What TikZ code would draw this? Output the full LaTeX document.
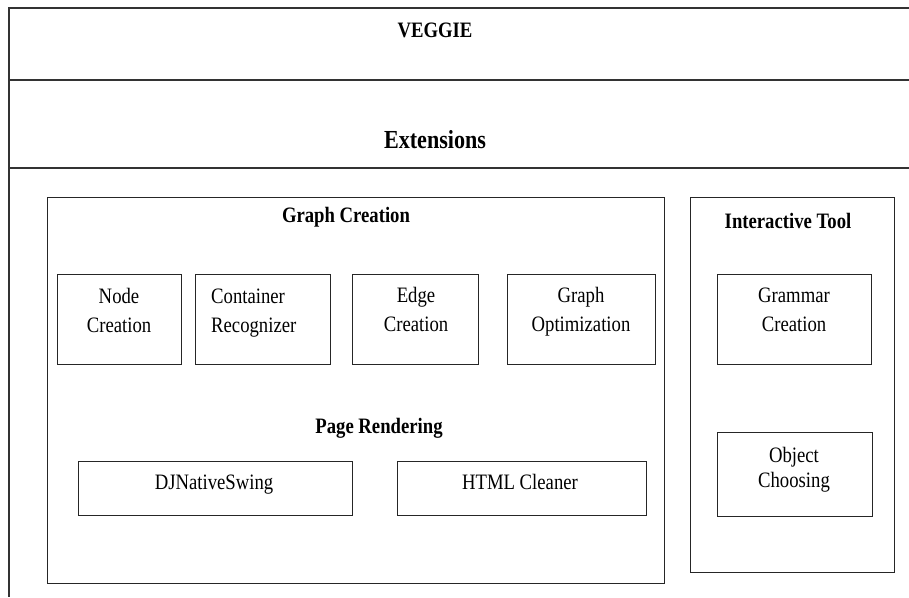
\documentclass[tikz,border=0pt]{standalone}
\usepackage{fontspec}
\setmainfont{Liberation Serif}[FakeStretch=0.85]
\newcommand{\twolines}[3][c]{\begin{tabular}[t]{@{}#1@{}}#2\\#3\end{tabular}}
\begin{document}
\begin{tikzpicture}[x=1pt,y=-1pt,
  frame/.style={line width=1.4pt, draw=black!80},
  box/.style={draw=black!85, line width=1.4pt, inner sep=0pt, anchor=north west},
  lbl/.style={inner sep=0pt, anchor=base, font=\fontsize{22}{29}\selectfont},
  lblb/.style={inner sep=0pt, anchor=base, font=\fontsize{22}{29}\selectfont\bfseries},
]
\useasboundingbox (0,0) rectangle (909,597);
% outer frame
\coordinate (tl) at (9,8);
\coordinate (tr) at (909,8);
\coordinate (bl) at (9,597);
\coordinate (s1l) at (9,80);
\coordinate (s1r) at (909,80);
\coordinate (s2l) at (9,168);
\coordinate (s2r) at (909,168);
\draw[frame] (tr) -- (tl) -- (bl);
\draw[frame] (s1l) -- (s1r);
\draw[frame] (s2l) -- (s2r);
\node[lblb] (veggie) at (435,37) {VEGGIE};
\node[lblb, font=\fontsize{26}{31}\selectfont\bfseries] (ext) at (435,148) {Extensions};

% containers
\node[box, minimum width=617pt, minimum height=386pt] (gc) at (47,197) {};
\node[box, minimum width=204pt, minimum height=375pt] (it) at (690,197) {};
\node[lblb] (gct) at (346,222) {Graph Creation};
\node[lblb] (itt) at (788,228) {Interactive Tool};
\node[lblb] (prt) at (379,433) {Page Rendering};

% graph creation boxes
\node[box, minimum width=124pt, minimum height=90pt] (nc) at (57,274) {};
\node[box, minimum width=135pt, minimum height=90pt] (cr) at (195,274) {};
\node[box, minimum width=126pt, minimum height=90pt] (ec) at (352,274) {};
\node[box, minimum width=148pt, minimum height=90pt] (go) at (507,274) {};
\node[lbl] (nct) at (119,303) {\twolines{Node}{Creation}};
\node[lbl, anchor=base west] (crt) at (211,303) {\twolines[l]{Container}{Recognizer}};
\node[lbl] (ect) at (416,302) {\twolines{Edge}{Creation}};
\node[lbl] (got) at (581,302) {\twolines{Graph}{Optimization}};

% page rendering boxes
\node[box, minimum width=274pt, minimum height=54pt] (dj) at (78,461) {};
\node[box, minimum width=249pt, minimum height=54pt] (hc) at (397,461) {};
\node[lbl] (djt) at (214,489) {DJNativeSwing};
\node[lbl] (hct) at (520,489) {HTML Cleaner};

% interactive tool boxes
\node[box, minimum width=154pt, minimum height=90pt] (gr) at (717,274) {};
\node[box, minimum width=155pt, minimum height=84pt] (oc) at (717,432) {};
\node[lbl] (grt) at (794,302) {\twolines{Grammar}{Creation}};
\node[lbl, font=\fontsize{22}{25}\selectfont] (oct) at (794,462) {\twolines{Object}{Choosing}};
\end{tikzpicture}
\end{document}
